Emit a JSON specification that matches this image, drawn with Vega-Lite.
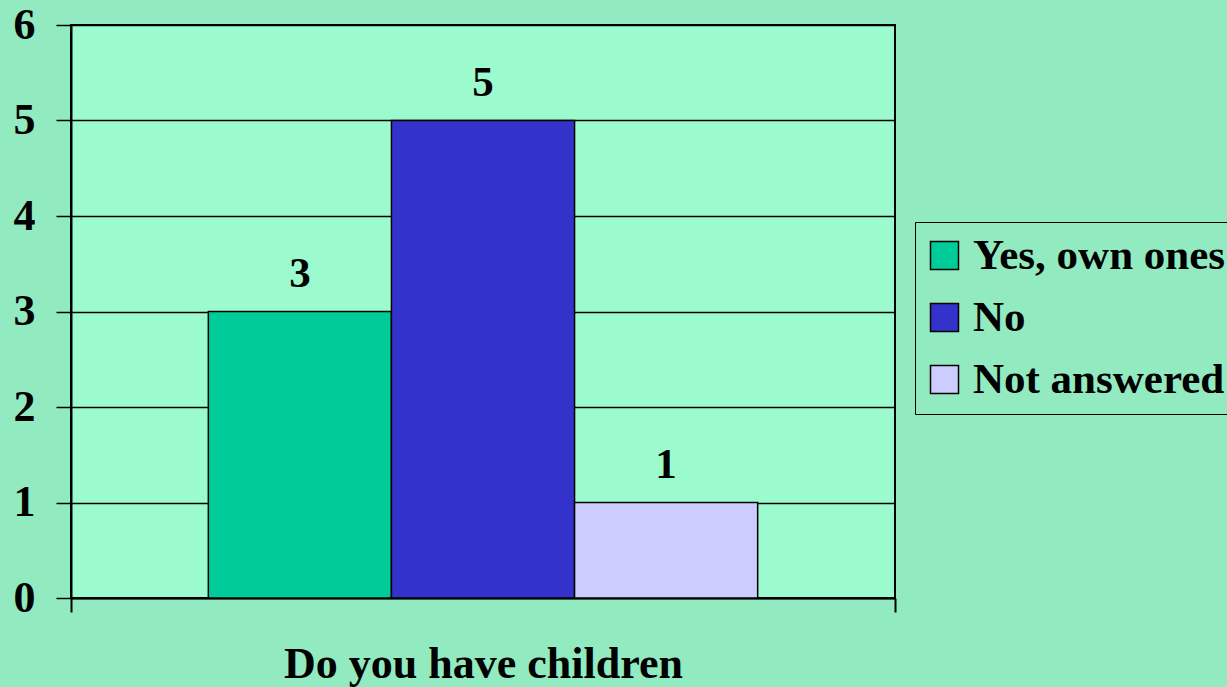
{
  "$schema": "https://vega.github.io/schema/vega-lite/v6.json",
  "width": 824,
  "height": 573,
  "autosize": {"type": "none"},
  "padding": {"left": 71, "top": 25, "right": 332, "bottom": 89},
  "background": "#92eac0",
  "config": {
    "view": {"stroke": "black", "strokeWidth": 2, "fill": "#9bfbce"},
    "font": "Liberation Serif"
  },
  "data": {
    "values": [
      {"question": "Do you have children", "answer": "Yes, own ones", "count": 3},
      {"question": "Do you have children", "answer": "No", "count": 5},
      {"question": "Do you have children", "answer": "Not answered", "count": 1}
    ]
  },
  "encoding": {
    "x": {
      "field": "question",
      "type": "nominal",
      "scale": {"paddingInner": 0, "paddingOuter": 0},
      "axis": {
        "title": null,
        "tickBand": "extent",
        "tickSize": 14,
        "tickColor": "black",
        "tickWidth": 2,
        "domainColor": "black",
        "domainWidth": 2,
        "labelAngle": 0,
        "labelFont": "Liberation Serif",
        "labelFontSize": 44,
        "labelFontWeight": "bold",
        "labelColor": "black",
        "labelPadding": 30,
        "labelLimit": 0,
        "grid": false
      }
    },
    "xOffset": {
      "field": "answer",
      "type": "nominal",
      "sort": ["Yes, own ones", "No", "Not answered"],
      "scale": {"paddingInner": 0, "paddingOuter": 0.75}
    },
    "y": {
      "field": "count",
      "type": "quantitative",
      "scale": {"domain": [0, 6], "nice": false},
      "axis": {
        "title": null,
        "values": [0, 1, 2, 3, 4, 5, 6],
        "grid": true,
        "gridColor": "black",
        "gridWidth": 1.5,
        "gridOpacity": 1,
        "domainColor": "black",
        "domainWidth": 2,
        "tickColor": "black",
        "tickSize": 15,
        "tickWidth": 1.5,
        "labelFont": "Liberation Serif",
        "labelFontSize": 44,
        "labelFontWeight": "bold",
        "labelColor": "black",
        "labelPadding": 21
      }
    }
  },
  "layer": [
    {
      "mark": {"type": "bar", "stroke": "black", "strokeWidth": 1.5, "opacity": 1},
      "encoding": {
        "color": {
          "field": "answer",
          "type": "nominal",
          "sort": ["Yes, own ones", "No", "Not answered"],
          "scale": {
            "domain": ["Yes, own ones", "No", "Not answered"],
            "range": ["#00CC99", "#3333CC", "#CCCCFF"]
          },
          "legend": {
            "title": null,
            "orient": "none",
            "legendX": 844,
            "legendY": 197,
            "strokeColor": "black",
            "padding": 12,
            "symbolType": "square",
            "symbolSize": 784,
            "symbolStrokeColor": "black",
            "symbolStrokeWidth": 1.5,
            "symbolOpacity": 1,
            "symbolOffset": -4,
            "labelFont": "Liberation Serif",
            "labelFontSize": 43,
            "labelFontWeight": "bold",
            "labelColor": "black",
            "labelOffset": 7,
            "labelLimit": 400,
            "rowPadding": 18
          }
        }
      }
    },
    {
      "mark": {
        "type": "text",
        "baseline": "bottom",
        "dy": -16,
        "fontSize": 43,
        "fontWeight": "bold",
        "font": "Liberation Serif",
        "color": "black"
      },
      "encoding": {"text": {"field": "count", "type": "quantitative"}}
    }
  ]
}
